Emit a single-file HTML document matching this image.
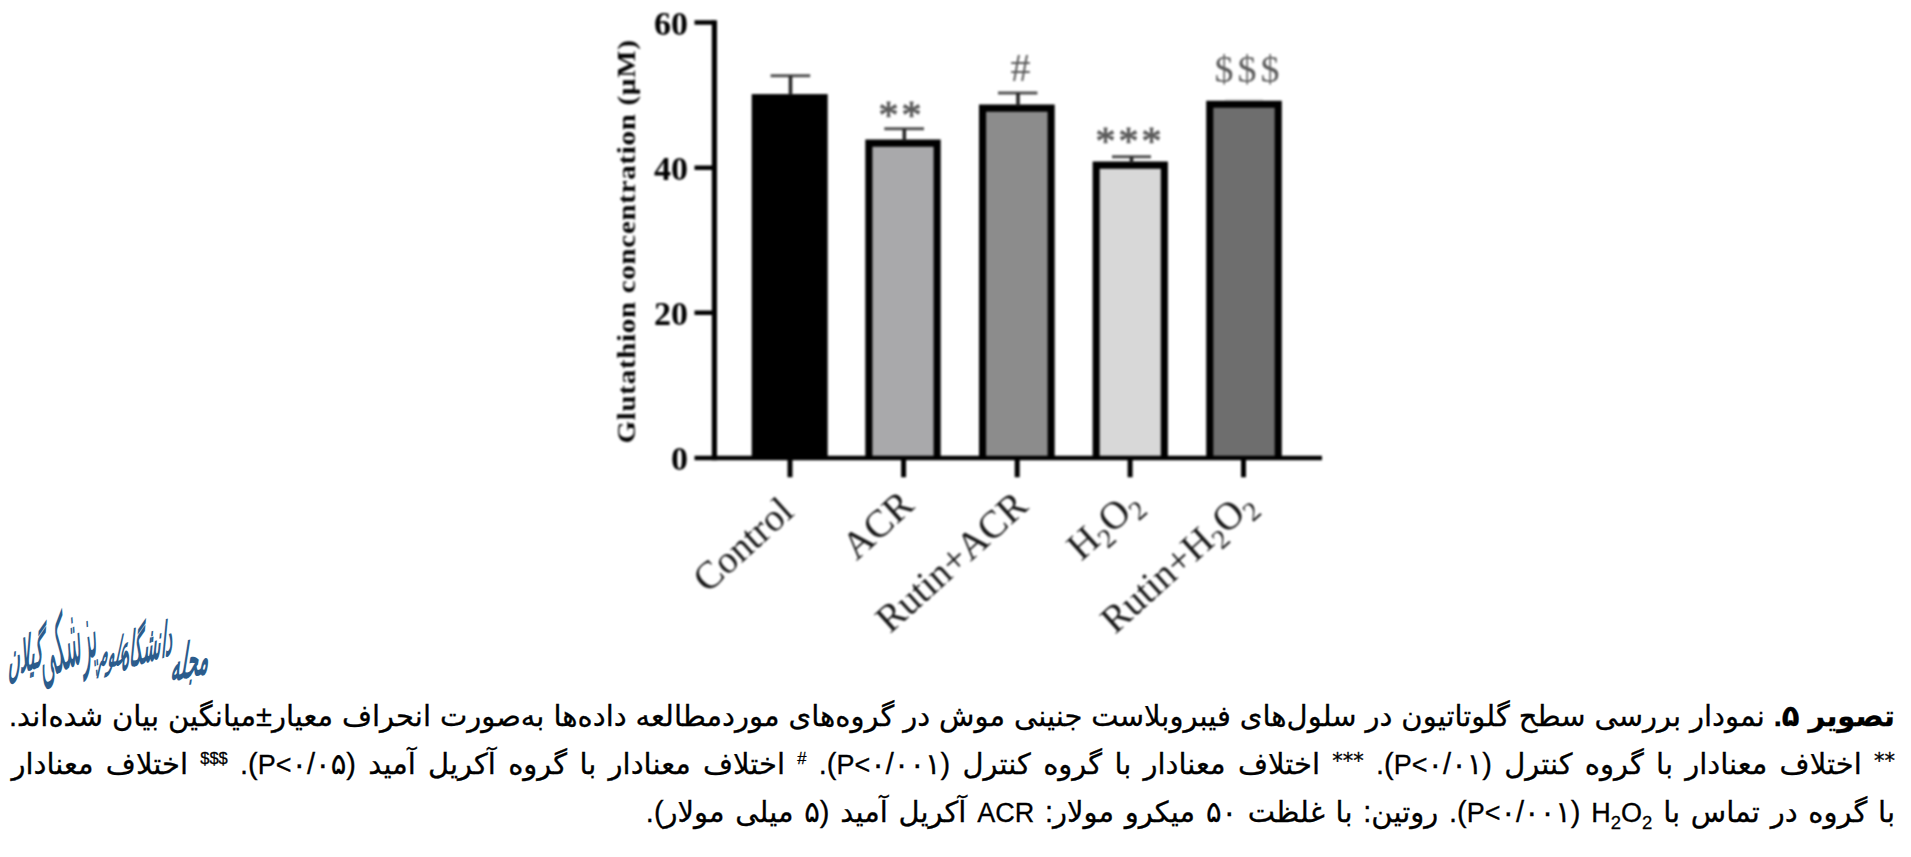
<!DOCTYPE html>
<html lang="fa">
<head>
<meta charset="utf-8">
<title>تصویر ۵</title>
<style>
html,body{margin:0;padding:0;background:#fff;}
body{width:1911px;height:857px;position:relative;overflow:hidden;}
#chart{position:absolute;left:0;top:0;width:1911px;height:660px;filter:blur(0.8px);}
#chart text{font-family:"Liberation Serif","DejaVu Serif",serif;}
.tl{font-weight:bold;font-size:34px;fill:#000;text-anchor:end;}
.xl{font-size:38.8px;fill:#141414;text-anchor:end;}
.an{font-size:38px;fill:#5a5a5a;text-anchor:middle;}
#logo{position:absolute;left:0;top:590px;width:230px;height:120px;}
#logo text{font-family:"Liberation Sans","DejaVu Sans",sans-serif;fill:#2b5c8c;font-style:italic;}
#cap{position:absolute;right:16px;top:692px;width:1883.5px;direction:rtl;
 font-family:"Liberation Sans","DejaVu Sans",sans-serif;font-size:29px;line-height:48px;color:#000;-webkit-text-stroke:0.3px #000;}
#cap .ln:first-child{margin-left:-2.5px;}
#cap .ln{display:block;height:48px;white-space:nowrap;text-align:justify;text-align-last:justify;}
#cap .ln.last{text-align:right;text-align-last:right;word-spacing:2.7px;}
#cap b{font-weight:bold;}
#cap sup{font-family:"Liberation Sans","DejaVu Sans",sans-serif;font-size:16.5px;line-height:0;vertical-align:10px;}
#cap sup.a{font-family:"DejaVu Sans",sans-serif;font-size:21px;vertical-align:6px;}
#cap sub{font-size:18.5px;line-height:0;vertical-align:-7px;}
#cap .lt{font-size:27px;}
#cap .nm{letter-spacing:1.6px;}
#cap .iso{unicode-bidi:isolate;direction:ltr;}
</style>
</head>
<body>
<svg id="chart" width="1911" height="660" viewBox="0 0 1911 660">
  <!-- bars -->
  <rect x="751.7" y="94.1" width="76" height="364" fill="#000"/>
  <path d="M868.85 458V143.15H937.15V458" fill="#a9a9ab" stroke="#000" stroke-width="7.1" stroke-linejoin="miter"/>
  <path d="M982.55 458V108.15H1051.15V458" fill="#8c8c8c" stroke="#000" stroke-width="7.1" stroke-linejoin="miter"/>
  <path d="M1096.15 458V165.15H1164.35V458" fill="#d8d8d8" stroke="#000" stroke-width="7.1" stroke-linejoin="miter"/>
  <path d="M1209.75 458V104.25H1278.25V458" fill="#6e6e6e" stroke="#000" stroke-width="7.1" stroke-linejoin="miter"/>
  <!-- error bars -->
  <g stroke="#505050" stroke-width="3" fill="none">
    <path d="M770.6 75.8H810.2"/>
    <path d="M884.3 128.8H924"/>
    <path d="M998 93H1037.4"/>
    <path d="M1112 156.8H1151"/>
  </g>
  <g stroke="#262626" stroke-width="3.6" fill="none">
    <path d="M790.5 75.8V95"/>
    <path d="M904.3 128.8V141"/>
    <path d="M1018 93V106"/>
    <path d="M1131.5 156.8V163"/>
  </g>
  <path d="M1225 100.2H1263" stroke="#bbb" stroke-width="1.5"/>
  <!-- axes -->
  <g stroke="#000" fill="none">
    <path d="M714.4 20.3V460.2" stroke-width="5.2"/>
    <path d="M694.5 458H1322" stroke-width="4.4"/>
    <path d="M694.5 22.5H714M694.5 167.7H714M694.5 312.8H714" stroke-width="4.4"/>
    <path d="M790 458V477.2M903.6 458V477.2M1017.2 458V477.2M1130.1 458V477.2M1243.5 458V477.2" stroke-width="5"/>
  </g>
  <!-- y tick labels -->
  <text class="tl" x="688" y="34.5">60</text>
  <text class="tl" x="688" y="180">40</text>
  <text class="tl" x="688" y="325">20</text>
  <text class="tl" x="688" y="470">0</text>
  <!-- y axis title -->
  <text transform="translate(634.5 443.5) rotate(-90) scale(1.16 1)" font-weight="bold" font-size="25" fill="#000" textLength="347.8" lengthAdjust="spacing">Glutathion concentration (µM)</text>
  <!-- annotations -->
  <text class="an" x="901.5" y="127.5" style="font-size:40px" letter-spacing="3" stroke="#5a5a5a" stroke-width="0.9">**</text>
  <text class="an" x="1020.5" y="80.5" style="font-size:40px">#</text>
  <text class="an" x="1130" y="153.5" style="font-size:40px" letter-spacing="3" stroke="#5a5a5a" stroke-width="0.9">***</text>
  <text class="an" x="1249" y="81.5" letter-spacing="4">$$$</text>
  <!-- x labels -->
  <text class="xl" transform="translate(795.6 514.4) rotate(-42)">Control</text>
  <text class="xl" transform="translate(915.7 507.8) rotate(-42)">ACR</text>
  <text class="xl" transform="translate(1029.7 508.5) rotate(-42)">Rutin+ACR</text>
  <text class="xl" transform="translate(1143.2 506.1) rotate(-42)">H<tspan style="font-size:27.2px" dy="8.5">2</tspan><tspan dy="-8.5">O</tspan><tspan style="font-size:27.2px" dy="8.5">2</tspan></text>
  <text class="xl" transform="translate(1257.1 507) rotate(-42)">Rutin+H<tspan style="font-size:27.2px" dy="8.5">2</tspan><tspan dy="-8.5">O</tspan><tspan style="font-size:27.2px" dy="8.5">2</tspan></text>
</svg>

<svg id="logo" width="230" height="120" viewBox="0 590 230 120">
  <g text-anchor="middle" font-size="27">
  <text transform="translate(189 677) rotate(-14) skewX(-18) scale(0.689 1.711)" font-weight="bold">مجله</text>
  <text transform="translate(146.5 662) rotate(-17) skewX(-18) scale(0.604 1.713)" font-weight="bold">دانشگاه</text>
  <text transform="translate(112 666) rotate(-10) skewX(-18) scale(0.5 1.45)" font-weight="bold">علوم</text>
  <text transform="translate(70 668) rotate(-25) skewX(-18) scale(0.758 2.832)">پزشکی</text>
  <text transform="translate(25.5 671.5) rotate(-18) skewX(-18) scale(0.631 1.718)" font-weight="bold">گیلان</text>
  </g>
</svg>

<div id="cap" dir="rtl">
<span class="ln"><b>تصویر ۵.</b> نمودار بررسی سطح گلوتاتیون در سلول‌های فیبروبلاست جنینی موش در گروه‌های موردمطالعه داده‌ها به‌صورت انحراف معیار±میانگین بیان شده‌اند.</span>
<span class="ln"><sup class="a">**</sup> اختلاف معنادار با گروه کنترل (<span class="lt">P&lt;</span><span class="nm">۰/۰۱</span>). <sup class="a">***</sup> اختلاف معنادار با گروه کنترل (<span class="lt">P&lt;</span><span class="nm">۰/۰۰۱</span>). <sup>#</sup> اختلاف معنادار با گروه آکریل آمید (<span class="lt">P&lt;</span><span class="nm">۰/۰۵</span>). <sup>$$$</sup> اختلاف معنادار</span>
<span class="ln last">با گروه در تماس با <span class="lt iso">H<sub>2</sub>O<sub>2</sub></span> (<span class="lt">P&lt;</span><span class="nm">۰/۰۰۱</span>). روتین: با غلظت ۵۰ میکرو مولار: <span class="lt">ACR</span> آکریل آمید (۵ میلی مولار).</span>
</div>
</body>
</html>
